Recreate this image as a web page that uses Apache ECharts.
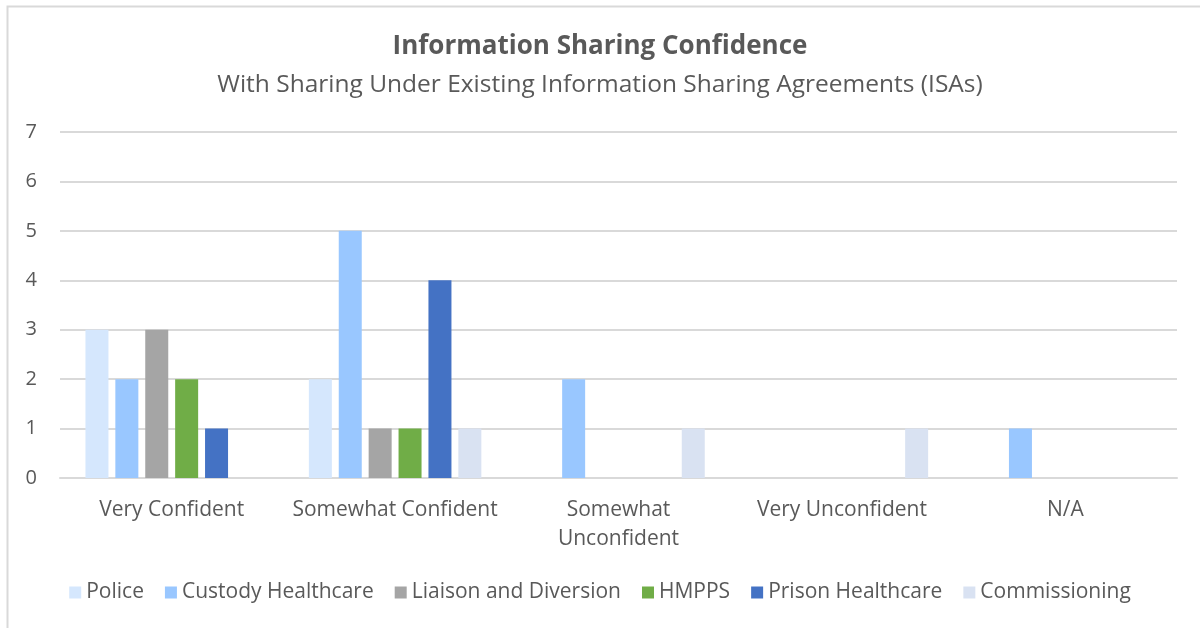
<!DOCTYPE html>
<html>
<head>
<meta charset="utf-8">
<script src="https://cdn.jsdelivr.net/npm/echarts@6/dist/echarts.min.js"></script>
<style>
  html, body { margin: 0; padding: 0; background: #fff; }
  #main { width: 1200px; height: 628px; }
</style>
</head>
<body>
<div id="main"></div>
<script>
// data
var categories = ['Very Confident', 'Somewhat Confident', 'Somewhat Unconfident', 'Very Unconfident', 'N/A'];
var police = [3, 2, 0, 0, 0];
var custodyHealthcare = [2, 5, 2, 0, 1];
var liaisonDiversion = [3, 1, 0, 0, 0];
var hmpps = [2, 1, 0, 0, 0];
var prisonHealthcare = [1, 4, 0, 0, 0];
var commissioning = [0, 1, 1, 1, 0];
var yTicks = [0, 1, 2, 3, 4, 5, 6, 7];

var seriesDefs = [
    { name: 'Police', data: police, color: '#d5e7fd' },
    { name: 'Custody Healthcare', data: custodyHealthcare, color: '#99c7ff' },
    { name: 'Liaison and Diversion', data: liaisonDiversion, color: '#a5a5a5' },
    { name: 'HMPPS', data: hmpps, color: '#70ad47' },
    { name: 'Prison Healthcare', data: prisonHealthcare, color: '#4472c4' },
    { name: 'Commissioning', data: commissioning, color: '#d9e2f2' }
];

var font = '"Open Sans", Lato, sans-serif';
var textColor = '#595959';

var myChart = echarts.init(document.getElementById('main'));
myChart.setOption({
    animation: false,
    textStyle: { fontFamily: font },
    graphic: [{
        type: 'rect',
        shape: { x: 7.5, y: 6.5, width: 1220, height: 640 },
        style: { fill: 'none', stroke: '#d9d9d9', lineWidth: 2 },
        silent: true
    }],
    title: [{
        text: 'Information Sharing Confidence',
        left: 'center',
        top: 29,
        textStyle: { fontFamily: font, fontSize: 26, fontWeight: 'bold', color: textColor }
    }, {
        text: 'With Sharing Under Existing Information Sharing Agreements (ISAs)',
        left: 'center',
        top: 68,
        textStyle: { fontFamily: font, fontSize: 24.5, fontWeight: 'normal', color: textColor }
    }],
    legend: {
        bottom: 20,
        left: 'center',
        icon: 'rect',
        itemWidth: 12,
        itemHeight: 12,
        itemGap: 21,
        textStyle: { fontFamily: font, fontSize: 21, color: textColor },
        data: seriesDefs.map(function (s) { return s.name; })
    },
    grid: { left: 60, right: 23, top: 132, bottom: 150, containLabel: false },
    xAxis: {
        type: 'category',
        data: categories,
        axisLine: { lineStyle: { color: '#d9d9d9', width: 2 } },
        axisTick: { show: false },
        axisLabel: {
            color: textColor,
            fontSize: 21,
            margin: 18,
            lineHeight: 29,
            interval: 0,
            formatter: function (v) {
                return v.length > 19 ? v.replace(' ', '\n') : v;
            }
        }
    },
    yAxis: {
        type: 'value',
        min: yTicks[0],
        max: yTicks[yTicks.length - 1],
        interval: 1,
        axisLine: { show: false },
        axisTick: { show: false },
        splitLine: { lineStyle: { color: '#d9d9d9', width: 2 } },
        axisLabel: { color: textColor, fontSize: 20, margin: 23 }
    },
    series: seriesDefs.map(function (s) {
        return {
            name: s.name,
            type: 'bar',
            data: s.data,
            barWidth: 23,
            barGap: '30%',
            itemStyle: { color: s.color }
        };
    })
});
</script>
</body>
</html>
